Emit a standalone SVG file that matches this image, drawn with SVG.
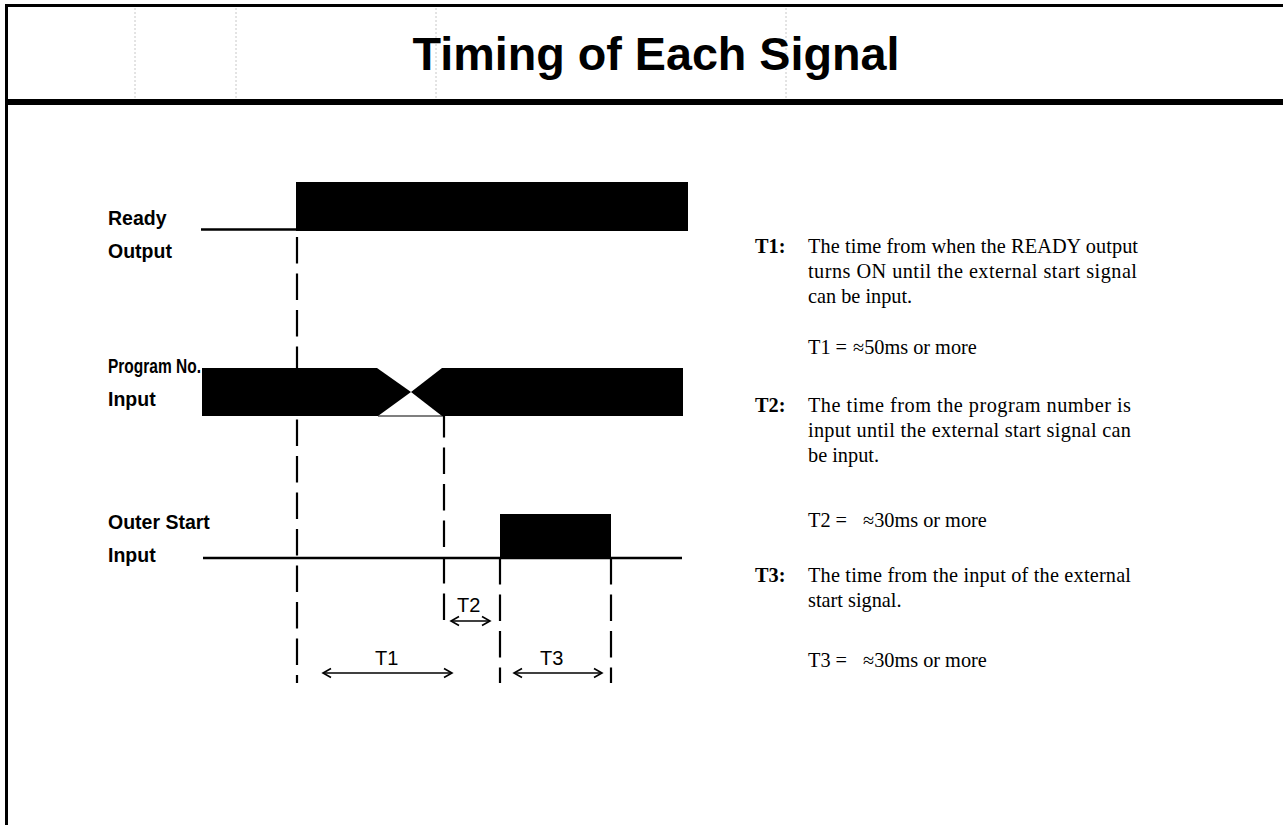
<svg xmlns="http://www.w3.org/2000/svg" width="1283" height="825" viewBox="0 0 1283 825">
  <style>
    .label { font-family: "Liberation Sans", Arial, sans-serif; font-weight: bold; font-size: 19.5px; fill: #000; }
    .tag { font-family: "Liberation Sans", Arial, sans-serif; font-size: 20px; fill: #000; }
    .body { font-family: "Liberation Serif", "Times New Roman", serif; font-size: 20.3px; fill: #000; }
    .bodyb { font-family: "Liberation Serif", "Times New Roman", serif; font-size: 20.3px; font-weight: bold; fill: #000; }
    .sig { fill: #000; stroke: none; }
    .base { stroke: #000; stroke-width: 2.5; fill: none; }
    .guide { stroke: #000; stroke-width: 2.2; fill: none; stroke-dasharray: 26.5 10; }
    .dim { stroke: #000; stroke-width: 1.6; fill: none; }
    .faint { stroke: #c8c8c8; stroke-width: 1; stroke-dasharray: 2 2; fill: none; }
  </style>
  <defs>
    <marker id="open" viewBox="-10 -6 12 12" refX="0" refY="0" markerWidth="12" markerHeight="12" markerUnits="userSpaceOnUse" orient="auto-start-reverse">
      <path d="M-8,-4.5 L0,0 L-8,4.5" fill="none" stroke="#000" stroke-width="1.6"/>
    </marker>
  </defs>

  <rect x="0" y="0" width="1283" height="825" fill="#fff"/>

  <!-- frame and header -->
  <g id="frame">
    <line class="faint" x1="135" y1="8" x2="135" y2="98"/>
    <line class="faint" x1="236" y1="8" x2="236" y2="98"/>
    <line class="faint" x1="436" y1="8" x2="436" y2="98"/>
    <line class="faint" x1="786" y1="8" x2="786" y2="98"/>
    <rect x="5" y="4" width="1278" height="3" fill="#000"/>
    <rect x="5" y="4" width="3" height="821" fill="#000"/>
    <rect x="5" y="99" width="1278" height="6" fill="#000"/>
    <text x="656" y="70" text-anchor="middle" textLength="487" lengthAdjust="spacingAndGlyphs" style="font-family: 'Liberation Sans', Arial, sans-serif; font-weight: bold; font-size: 47px;">Timing of Each Signal</text>
  </g>

  <!-- signal names -->
  <g id="label-ready">
    <text class="label" x="108" y="225">Ready</text>
    <text class="label" x="108" y="258">Output</text>
  </g>
  <g id="label-program">
    <text class="label" x="108" y="373" textLength="93" lengthAdjust="spacingAndGlyphs">Program No.</text>
    <text class="label" x="108" y="406">Input</text>
  </g>
  <g id="label-start">
    <text class="label" x="108" y="529">Outer Start</text>
    <text class="label" x="108" y="562">Input</text>
  </g>

  <!-- waveforms -->
  <g id="wave-ready">
    <line class="base" x1="201" y1="229.5" x2="297" y2="229.5"/>
    <rect class="sig" x="296" y="182" width="392" height="49"/>
  </g>
  <g id="wave-program">
    <polygon class="sig" points="202,368 377,368 411,392 378,416 202,416"/>
    <polygon class="sig" points="442,368 683,368 683,416 442,416 411,392"/>
    <line x1="378" y1="416" x2="443" y2="416" stroke="#000" stroke-width="1.2"/>
  </g>
  <g id="wave-start">
    <line class="base" x1="203" y1="558" x2="682" y2="558"/>
    <rect class="sig" x="500" y="514" width="111" height="45"/>
  </g>

  <!-- timing guides and dimension arrows -->
  <g id="connectors">
    <line class="guide" x1="297" y1="237" x2="297" y2="683"/>
    <line class="guide" x1="444" y1="416" x2="444" y2="623" style="stroke-dashoffset: 5"/>
    <line class="guide" x1="500" y1="558" x2="500" y2="683"/>
    <line class="guide" x1="611" y1="558" x2="611" y2="683"/>
    <line class="dim" x1="451" y1="621" x2="490" y2="621" marker-start="url(#open)" marker-end="url(#open)"/>
    <line class="dim" x1="323" y1="673" x2="452" y2="673" marker-start="url(#open)" marker-end="url(#open)"/>
    <line class="dim" x1="514" y1="673" x2="602" y2="673" marker-start="url(#open)" marker-end="url(#open)"/>
  </g>
  <g id="tag-t2"><text class="tag" x="457" y="612">T2</text></g>
  <g id="tag-t1"><text class="tag" x="375" y="665">T1</text></g>
  <g id="tag-t3"><text class="tag" x="540" y="665">T3</text></g>

  <!-- notes -->
  <g id="note-t1">
    <text class="bodyb" x="755" y="253">T1:</text>
    <text class="body" x="808" y="253" textLength="330">The time from when the READY output</text>
    <text class="body" x="808" y="278" textLength="329">turns ON until the external start signal</text>
    <text class="body" x="808" y="303">can be input.</text>
    <text class="body" x="808" y="354">T1 =</text>
    <text class="body" x="853" y="354">≈50ms or more</text>
  </g>
  <g id="note-t2">
    <text class="bodyb" x="755" y="412">T2:</text>
    <text class="body" x="808" y="412" textLength="323">The time from the program number is</text>
    <text class="body" x="808" y="437" textLength="323">input until the external start signal can</text>
    <text class="body" x="808" y="462">be input.</text>
    <text class="body" x="808" y="527">T2 =</text>
    <text class="body" x="863" y="527">≈30ms or more</text>
  </g>
  <g id="note-t3">
    <text class="bodyb" x="755" y="582">T3:</text>
    <text class="body" x="808" y="582" textLength="323">The time from the input of the external</text>
    <text class="body" x="808" y="607">start signal.</text>
    <text class="body" x="808" y="667">T3 =</text>
    <text class="body" x="863" y="667">≈30ms or more</text>
  </g>
</svg>
